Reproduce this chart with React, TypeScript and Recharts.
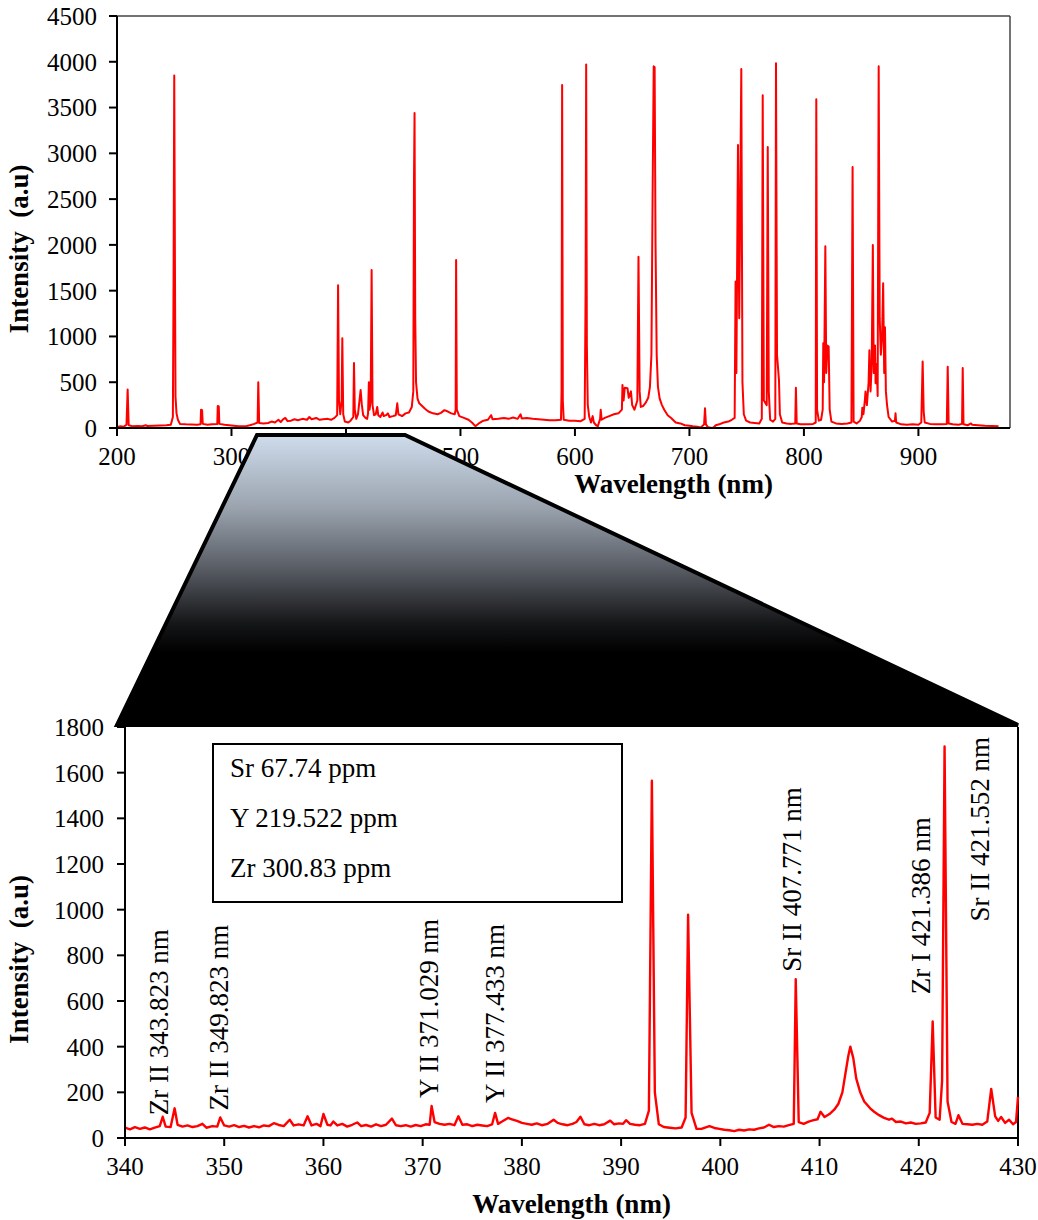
import React from 'react';
import { LineChart, Line, XAxis, YAxis, ReferenceLine, ReferenceDot, Label } from 'recharts';

type Pt = [number, number];

// Survey spectrum, 200–980 nm: [wavelength nm, intensity a.u.]
const surveyUv: Pt[] = [
  [200, 12], [203, 18], [206, 15], [208.3, 35], [209.3, 420], [210.2, 30], [214, 18], [218, 22],
  [222, 20], [225, 30], [226.5, 22], [232, 25], [238, 28], [243, 30], [247, 35], [248.8, 120],
  [249.4, 1600], [250, 3850], [250.6, 1800], [251.1, 340], [252, 160], [253.2, 90], [255, 45],
  [260, 40], [265, 38], [270, 35], [273, 40], [273.4, 200], [274.3, 195], [274.9, 45], [279, 35],
  [283, 40], [287.6, 45], [288, 240], [288.9, 235], [289.4, 45], [294, 35], [300, 28], [306, 20],
  [312, 18], [316, 30], [320, 45], [322.8, 60], [323.4, 500], [324.2, 55], [328, 50],
];

const surveyBlue: Pt[] = [
  [332, 55], [335, 70], [338, 60], [341, 90], [343, 65], [345, 95], [347, 110], [349, 75],
  [352, 80], [355, 95], [358, 85], [362, 100], [366, 90], [368, 120], [370, 95], [374, 110],
  [377, 90], [380, 95], [384, 100], [387, 90], [390, 110], [392.3, 140], [393.1, 1560],
  [393.9, 300], [395, 150], [396.2, 300], [396.8, 980], [397.6, 150], [399, 70], [402, 60],
  [404, 80], [406.4, 120], [407, 710], [407.7, 200], [409, 100], [410.5, 150], [411.8, 300],
  [412.8, 415], [413.8, 260], [415, 140], [417, 110], [418.5, 100], [419.3, 160], [420, 500],
  [420.6, 200], [421.6, 300], [422.4, 1725], [423.2, 250], [424.5, 140], [426, 150], [427.3, 230],
  [428.2, 140], [430, 120], [432, 170], [433, 130], [435, 140], [436.6, 160], [438, 120],
  [441, 130], [443.5, 140], [444.8, 270], [445.8, 150], [449, 130], [452, 160], [455, 170],
  [457.5, 230], [458.8, 400], [459.4, 2700], [459.9, 3440], [460.5, 1200], [461.2, 500],
  [462.5, 320], [464, 270], [466.5, 240], [469, 210], [472, 180], [476, 160], [480, 150],
  [483, 165], [486, 195], [489, 180], [492, 160], [495, 150], [495.8, 200], [496.2, 1835],
  [496.8, 200], [499, 130], [503, 110], [507, 90], [510, 60], [513, 20], [516, 50], [520, 80],
];

const surveyVisible: Pt[] = [
  [524, 90], [526.8, 140], [528, 95], [533, 100], [538, 110], [542, 100], [546, 115], [550, 100],
  [552.5, 150], [553.5, 105], [558, 110], [563, 100], [568, 95], [573, 90], [578, 85], [583, 85],
  [587.8, 90], [588.3, 400], [588.8, 3745], [589.4, 300], [590.2, 90], [595, 80], [600, 80],
  [605, 75], [608.5, 100], [609.3, 1500], [609.8, 3970], [610.4, 900], [611.2, 250], [612.5, 120],
  [614, 60], [615.5, 130], [616.5, 60], [618.5, 30], [620, 20], [622, 100], [622.5, 200],
  [623.3, 90], [626, 110], [630, 130], [634, 150], [638, 160], [641, 200], [641.5, 470],
  [642.5, 300], [643.5, 440], [645.9, 435], [647, 330], [648.9, 400], [650, 250], [652, 200],
  [654.5, 300], [655.5, 1870], [656.5, 400], [657.5, 230], [659.5, 240], [662, 280], [664, 330],
  [665.5, 450], [666.8, 800], [667.8, 2500], [668.8, 3950], [669.6, 3940], [670.4, 2000],
  [671.4, 800], [672.5, 450], [674, 320], [676, 250], [678, 200], [681, 140], [684, 110],
  [688, 60], [692, 50], [696, 30], [700, 25],
];

const surveyRed: Pt[] = [
  [703, 20], [707, 15], [710, 5], [712.8, 40], [713.6, 215], [714.4, 40], [716, 10], [719, 0],
  [721, 5], [723, 30], [726, 40], [730, 60], [734, 70], [737, 90], [739.5, 110], [740.3, 1600],
  [741, 600], [742.4, 3090], [743.5, 1200], [745.3, 3920], [746.3, 500], [747.5, 150],
  [749.5, 80], [753, 60], [757, 55], [761, 50], [763.2, 100], [764, 3635], [765, 300],
  [767.5, 250], [768.4, 3070], [769.3, 400], [770.5, 90], [773, 70], [775, 100], [775.6, 3985],
  [776.5, 800], [778.2, 524], [779, 150], [781, 60], [785, 50], [789, 45], [792.4, 50],
  [793, 440], [793.7, 50], [797, 40], [800, 40],
];

const surveyNir: Pt[] = [
  [804, 40], [808, 45], [810.3, 60], [810.8, 3590], [811.5, 200], [813, 80], [815, 90],
  [816.4, 200], [816.9, 925], [817.6, 500], [818.7, 1985], [819.5, 600], [820.5, 900],
  [821.6, 890], [822.5, 200], [824, 70], [828, 50], [833, 45], [838, 50], [841.5, 60],
  [842.5, 2850], [843.4, 70], [846, 50], [849, 80], [850.5, 120], [851, 220], [852, 150],
  [853.2, 300], [853.8, 400], [855, 250], [856.5, 500], [857.2, 850], [858.2, 400], [859.2, 700],
  [860.2, 2000], [861, 600], [862.1, 900], [862.6, 490], [863.6, 700], [864.4, 350],
  [865.3, 3950], [866.2, 1200], [867.2, 800], [868.3, 1000], [869.2, 1580], [870.1, 600],
  [870.8, 1100], [871.6, 400], [872.6, 250], [874, 120], [877, 70], [879.5, 80], [880, 160],
  [880.6, 60], [885, 40], [890, 35], [895, 40], [900, 35], [902.5, 60], [903.7, 725],
  [904.6, 180], [905.5, 60], [910, 45], [915, 40], [920, 40], [924.8, 45], [925.6, 670],
  [926.4, 50], [930, 40], [935, 35], [938.1, 45], [938.7, 655], [939.4, 40], [943, 30],
  [946, 50], [947, 35], [952, 30], [958, 25], [964, 22], [970, 20],
];

// Zoomed window, 340–430 nm
const zoomLow: Pt[] = [
  [340, 45], [340.5, 38], [341, 48], [341.5, 40], [342, 46], [342.5, 38], [343, 45], [343.5, 52],
  [343.8, 93], [344.1, 50], [344.6, 48], [345, 130], [345.3, 58], [345.8, 50], [346.3, 55],
  [346.8, 48], [347.3, 52], [347.8, 62], [348.2, 45], [348.8, 52], [349.3, 50], [349.6, 90],
  [350, 55], [350.5, 50], [351, 56], [351.5, 48], [352, 53], [352.5, 46], [353, 52], [353.5, 47],
  [354, 55], [354.5, 52], [355, 65], [355.5, 57], [356, 52], [356.6, 80], [357, 55], [357.5, 60],
  [358, 55], [358.4, 95], [358.8, 55], [359.3, 62], [359.7, 52], [360, 105], [360.4, 58],
  [360.7, 55], [361, 72], [361.4, 55], [361.9, 62], [362.4, 50], [362.9, 58], [363.4, 68],
  [363.8, 52], [364.3, 57], [364.8, 50], [365.3, 60], [365.8, 52], [366.3, 58], [366.9, 85],
  [367.3, 56], [367.8, 52], [368.3, 56], [368.8, 50], [369.3, 57], [369.8, 52], [370.3, 60],
  [370.7, 58], [370.9, 140], [371.2, 70], [371.7, 62], [372.2, 58], [372.7, 62], [373.2, 56],
  [373.6, 95], [374, 58], [374.5, 60], [375, 52], [375.5, 58], [376, 55], [376.5, 52], [377, 60],
  [377.3, 110], [377.6, 62], [378, 72], [378.6, 88], [379, 82], [379.5, 75], [380, 66],
  [380.5, 62], [381, 58], [381.5, 64], [382, 56], [382.6, 62], [383.2, 80], [383.6, 66],
  [384.1, 60], [384.6, 56], [385.1, 62], [385.5, 70], [385.9, 93], [386.3, 60], [386.8, 56],
  [387.3, 62], [387.8, 56], [388.3, 60], [388.9, 76], [389.3, 60], [389.8, 64], [390.2, 62],
  [390.5, 78], [390.9, 62], [391.4, 58], [391.9, 56],
];

const zoomHigh: Pt[] = [
  [392.4, 62], [392.8, 120], [393.1, 1565], [393.4, 200], [393.8, 60], [394.3, 48], [394.9, 45],
  [395.5, 42], [396.1, 46], [396.5, 90], [396.75, 978], [397.1, 110], [397.6, 40], [398.1, 40],
  [398.6, 48], [398.9, 52], [399.4, 44], [399.9, 40], [400.4, 36], [400.9, 34], [401.4, 30],
  [401.9, 36], [402.4, 33], [402.9, 38], [403.4, 36], [403.9, 42], [404.4, 46], [404.9, 58],
  [405.4, 48], [405.9, 52], [406.4, 50], [406.9, 56], [407.4, 62], [407.6, 695], [407.9, 70],
  [408.4, 62], [408.9, 72], [409.4, 78], [409.8, 82], [410.1, 115], [410.5, 92], [411, 105],
  [411.5, 125], [411.9, 150], [412.3, 200], [412.6, 280], [412.9, 360], [413.1, 400],
  [413.4, 350], [413.7, 260], [414.1, 200], [414.5, 160], [415.1, 130], [415.5, 115], [416, 100],
  [416.5, 88], [417, 80], [417.3, 85], [417.7, 70], [418.2, 72], [418.7, 64], [419.2, 68],
  [419.7, 62], [420.2, 64], [420.7, 68], [421.1, 110], [421.4, 510], [421.7, 90], [422.1, 80],
  [422.35, 250], [422.6, 1715], [422.9, 160], [423.3, 70], [423.7, 62], [424, 100], [424.4, 62],
  [424.9, 60], [425.4, 58], [425.9, 62], [426.4, 58], [426.9, 72], [427.3, 215], [427.7, 95],
  [428, 75], [428.3, 92], [428.7, 66], [429.1, 80], [429.5, 60], [429.8, 70], [430, 180],
];

const surveyTicks = [200, 300, 400, 500, 600, 700, 800, 900];
const surveyLevels = [0, 500, 1000, 1500, 2000, 2500, 3000, 3500, 4000, 4500];
const zoomTicks = [340, 350, 360, 370, 380, 390, 400, 410, 420, 430];
const zoomLevels = [0, 200, 400, 600, 800, 1000, 1200, 1400, 1600, 1800];

// emission line tags: text, wavelength of the text baseline, intensity where the text starts
const lineTags = [
  { text: 'Zr II 343.823 nm', wl: 344.3, at: 100 },
  { text: 'Zr II 349.823 nm', wl: 350.4, at: 120 },
  { text: 'Y II 371.029 nm', wl: 371.5, at: 175 },
  { text: 'Y II 377.433 nm', wl: 378.2, at: 153 },
  { text: 'Sr II 407.771 nm', wl: 408.1, at: 728 },
  { text: 'Zr I 421.386 nm', wl: 421.1, at: 630 },
  { text: 'Sr II 421.552 nm', wl: 427.1, at: 948 },
];

const concentrations = ['Sr 67.74 ppm', 'Y 219.522 ppm', 'Zr 300.83 ppm'];

const toRows = (pts: Pt[]) => pts.map(([wl, intensity]) => ({ wl, intensity }));
const surveyData = toRows([...surveyUv, ...surveyBlue, ...surveyVisible, ...surveyRed, ...surveyNir]);
const zoomData = toRows([...zoomLow, ...zoomHigh]);

const SERIF = '"Liberation Serif", "Times New Roman", serif';
const RED = '#ff0000';
const tickStyle = { fontSize: 25, fill: '#000', fontFamily: SERIF };

const xTitle = (dx: number, dy: number) => (props: any) => {
  const { x, y, width } = props.viewBox;
  return (
    <text x={x + width / 2 + dx} y={y + dy} textAnchor="middle" fontFamily={SERIF}
      fontSize={27} fontWeight="bold" fill="#000">
      Wavelength (nm)
    </text>
  );
};

const yTitle = (props: any) => {
  const { x, y, height } = props.viewBox;
  const cx = x + 28;
  const cy = y + height / 2 + 27;
  return (
    <text transform={`translate(${cx},${cy}) rotate(-90)`} textAnchor="middle" fontFamily={SERIF}
      fontSize={27} fontWeight="bold" fill="#000" style={{ whiteSpace: 'pre' }}>
      {'Intensity  (a.u)'}
    </text>
  );
};

function SurveyChart() {
  return (
    <LineChart width={1038} height={520} data={surveyData}
      margin={{ top: 16, right: 28, left: 0, bottom: 0 }}>
      <XAxis type="number" dataKey="wl" domain={[200, 980]} ticks={surveyTicks} interval={0}
        height={92} tick={tickStyle} tickSize={8} tickMargin={11}
        axisLine={{ stroke: '#000', strokeWidth: 2 }} tickLine={{ stroke: '#000', strokeWidth: 2 }}>
        <Label content={xTitle(110, 65)} />
      </XAxis>
      <YAxis type="number" domain={[0, 4500]} ticks={surveyLevels} interval={0} width={117}
        tick={tickStyle} tickSize={8} tickMargin={12}
        axisLine={{ stroke: '#000', strokeWidth: 2 }} tickLine={{ stroke: '#000', strokeWidth: 2 }}>
        <Label content={yTitle} />
      </YAxis>
      <ReferenceLine y={4500} stroke="#444" strokeWidth={1.5} />
      <ReferenceLine x={980} stroke="#444" strokeWidth={1.5} />
      <Line type="linear" dataKey="intensity" stroke={RED} strokeWidth={2} dot={false}
        activeDot={false} isAnimationActive={false} strokeLinejoin="round" />
    </LineChart>
  );
}

function ZoomChart() {
  return (
    <LineChart width={1038} height={520} data={zoomData}
      margin={{ top: 27, right: 20, left: 0, bottom: 0 }}>
      <XAxis type="number" dataKey="wl" domain={[340, 430]} ticks={zoomTicks} interval={0}
        height={82} tick={tickStyle} tickSize={8} tickMargin={11}
        axisLine={{ stroke: '#000', strokeWidth: 2 }} tickLine={{ stroke: '#000', strokeWidth: 2 }}>
        <Label content={xTitle(0, 75)} />
      </XAxis>
      <YAxis type="number" domain={[0, 1800]} ticks={zoomLevels} interval={0} width={125}
        tick={tickStyle} tickSize={8} tickMargin={13}
        axisLine={{ stroke: '#000', strokeWidth: 2 }} tickLine={{ stroke: '#000', strokeWidth: 2 }}>
        <Label content={yTitle} />
      </YAxis>
      <ReferenceLine x={430} stroke="#000" strokeWidth={2} />
      <Line type="linear" dataKey="intensity" stroke={RED} strokeWidth={2.4} dot={false}
        activeDot={false} isAnimationActive={false} strokeLinejoin="round" />
      {lineTags.map((t) => (
        <ReferenceDot key={t.text} x={t.wl} y={t.at} r={0}
          shape={(p: any) => (
            <text transform={`translate(${p.cx},${p.cy}) rotate(-90)`} fontFamily={SERIF}
              fontSize={27} fill="#000">
              {t.text}
            </text>
          )} />
      ))}
    </LineChart>
  );
}

export default function App() {
  return (
    <div style={{ position: 'absolute', left: 0, top: 0, width: 1038, height: 1220, background: '#fff' }}>
      <div style={{ position: 'absolute', left: 0, top: 0 }}>
        <SurveyChart />
      </div>
      <div style={{ position: 'absolute', left: 0, top: 700 }}>
        <ZoomChart />
      </div>
      <svg width={1038} height={1220}
        style={{ position: 'absolute', left: 0, top: 0, pointerEvents: 'none' }}>
        <defs>
          <linearGradient id="zoomFade" x1="0" y1="0" x2="0" y2="1">
            <stop offset="0" stopColor="#cfdcec" />
            <stop offset="0.25" stopColor="#9aa3ae" />
            <stop offset="0.45" stopColor="#5c6068" />
            <stop offset="0.65" stopColor="#151618" />
            <stop offset="0.75" stopColor="#000" />
            <stop offset="1" stopColor="#000" />
          </linearGradient>
        </defs>
        {/* connector from the survey axis down to the zoomed window */}
        <polygon points="257,435 405,435 1018,725 117,725" fill="url(#zoomFade)"
          stroke="#000" strokeWidth={4} strokeLinejoin="miter" />
        <rect x={213} y={744} width={409} height={158} fill="#fff" stroke="#000" strokeWidth={2} />
        {concentrations.map((c, i) => (
          <text key={c} x={230} y={777 + i * 50} fontFamily={SERIF} fontSize={27} fill="#000">
            {c}
          </text>
        ))}
      </svg>
    </div>
  );
}
